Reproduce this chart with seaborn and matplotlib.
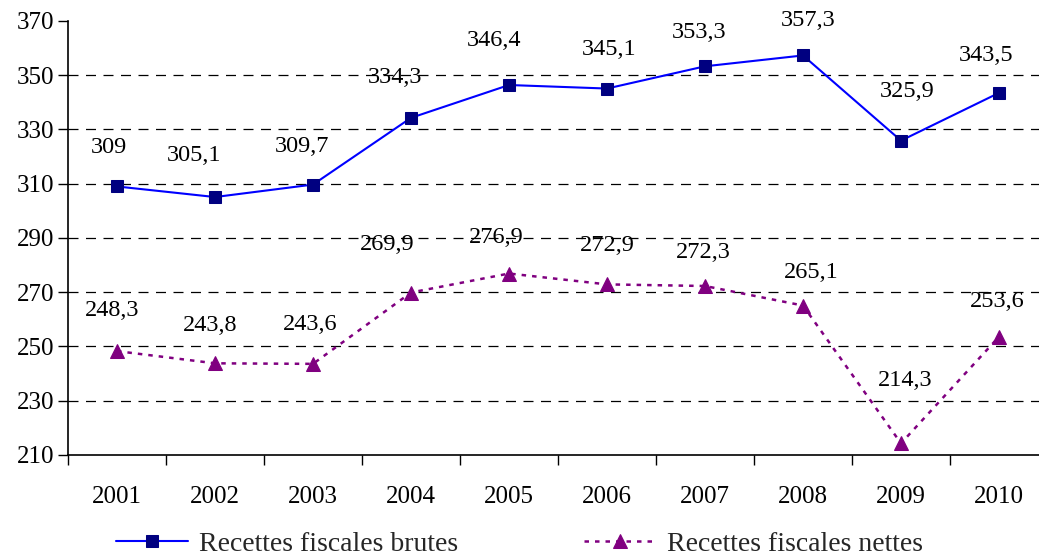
import seaborn as sns
import pandas as pd
import matplotlib.pyplot as plt
from matplotlib.ticker import FixedLocator

years = ["2001", "2002", "2003", "2004", "2005", "2006", "2007", "2008", "2009", "2010"]
brutes = [309, 305.1, 309.7, 334.3, 346.4, 345.1, 353.3, 357.3, 325.9, 343.5]
nettes = [248.3, 243.8, 243.6, 269.9, 276.9, 272.9, 272.3, 265.1, 214.3, 253.6]
y_ticks = [210, 230, 250, 270, 290, 310, 330, 350, 370]

label_brutes = "Recettes fiscales brutes"
label_nettes = "Recettes fiscales nettes"

# label offsets from the point, in pixels (dx, dy)
off_brutes = [(-8, 39), (-21, 42), (-11, 38), (-16, 40), (-15, 45),
              (2, 39), (-6, 34), (5, 35), (6, 49), (-13, 37)]
off_nettes = [(-5, 41), (-5, 38), (-3, 39), (-24, 48), (-13, 36),
              (0, 39), (-2, 34), (8, 33), (4, 63), (-2, 35)]


def fmt(v):
    return ("%g" % v).replace(".", ",")


sns.set_theme(style="white")
plt.rcParams["font.family"] = ["Liberation Serif", "DejaVu Serif"]

df = pd.DataFrame({"year": years, "brutes": brutes, "nettes": nettes})

fig = plt.figure(figsize=(10.39, 5.59), dpi=100)
ax = fig.add_axes([68 / 1039, 104 / 559, 980 / 1039, 434 / 559])

sns.lineplot(data=df, x="year", y="brutes", ax=ax, color="#0000FF", linewidth=1.5,
             marker="s", markersize=8, markerfacecolor="#000080",
             markeredgecolor="#000080", label=label_brutes, sort=False)
sns.lineplot(data=df, x="year", y="nettes", ax=ax, color="#800080", linewidth=1.8,
             marker="^", markersize=10, markerfacecolor="#800080",
             markeredgecolor="#800080", label=label_nettes, sort=False)
ax.lines[1].set_dashes((1.8, 2.4))

px = 0.72  # pixels -> points at 100 dpi
for i in range(len(years)):
    for vals, offs in ((brutes, off_brutes), (nettes, off_nettes)):
        dx, dy = offs[i]
        ax.annotate(fmt(vals[i]), (i, vals[i]), xytext=(dx * px, dy * px),
                    textcoords="offset points", ha="center", va="center",
                    fontsize=17.5, color="black")

ax.set_xlim(-0.5, len(years) - 0.5)
ax.set_ylim(210, 370)
ax.set_yticks(y_ticks)
ax.set_xlabel("")
ax.set_ylabel("")

ax.xaxis.set_minor_locator(FixedLocator([i + 0.5 for i in range(-1, len(years))]))
ax.tick_params(axis="x", which="major", length=0, labelsize=18, pad=22, colors="black")
ax.tick_params(axis="x", which="minor", length=7, width=1, direction="out",
               bottom=True, color="black")
ax.tick_params(axis="y", which="major", length=7, width=1, direction="out",
               left=True, labelsize=18, colors="black", pad=3)

ax.yaxis.grid(True, linestyle=(0, (8, 6)), color="black", linewidth=0.9)
ax.yaxis.get_gridlines()[-1].set_visible(False)
ax.yaxis.get_gridlines()[0].set_visible(False)

for side in ["top", "right"]:
    ax.spines[side].set_visible(False)
for side in ["left", "bottom"]:
    ax.spines[side].set_color("black")
    ax.spines[side].set_linewidth(1.2)

handles, labels = ax.get_legend_handles_labels()
ax.get_legend().remove()
fig.legend(handles, labels, loc="center", bbox_to_anchor=(0.5, 0.026), ncol=2,
           frameon=False, fontsize=20, handlelength=2.6, columnspacing=4.5,
           handletextpad=0.4, borderaxespad=0)

fig.savefig("out.png", dpi=100)
